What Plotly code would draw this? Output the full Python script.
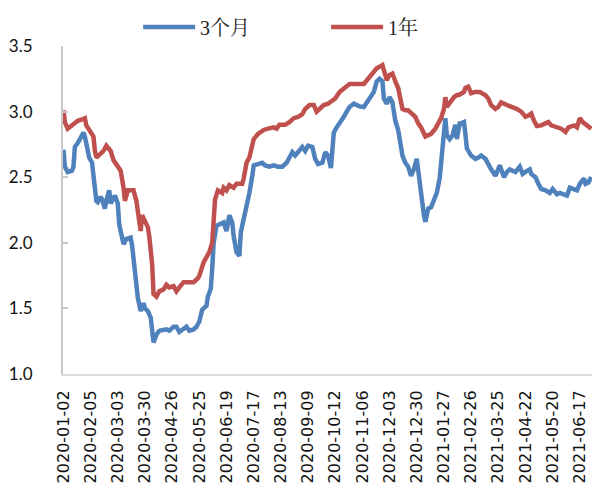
import plotly.graph_objects as go

# Tick labels (every 19th trading day)
tick_labels = ["2020-01-02", "2020-02-05", "2020-03-03", "2020-03-30", "2020-04-26",
               "2020-05-25", "2020-06-19", "2020-07-17", "2020-08-13", "2020-09-09",
               "2020-10-12", "2020-11-06", "2020-12-03", "2020-12-30", "2021-01-27",
               "2021-02-26", "2021-03-25", "2021-04-22", "2021-05-20", "2021-06-17"]
tick_pos = [0, 19, 38, 57, 76, 95, 114, 133, 152, 171, 190, 209, 228, 247, 266,
            285, 304, 323, 342, 361]

# 3个月 (trading-day index, yield %)
idx_3m = [0, 1, 3, 6, 7, 8, 10, 11, 12, 14, 15, 17, 18, 20, 21, 23, 24, 26, 27, 29,
          30, 32, 33, 34, 36, 38, 39, 41, 42, 44, 47, 48, 49, 51, 52, 54, 56, 57, 59, 61,
          62, 63, 65, 67, 72, 74, 77, 79, 81, 84, 86, 88, 91, 93, 95, 97, 100, 101, 103, 104,
          105, 107, 109, 112, 114, 116, 118, 119, 121, 123, 124, 126, 127, 129, 130, 132, 133, 136, 139, 141,
          144, 147, 150, 153, 156, 158, 160, 162, 164, 167, 169, 171, 174, 176, 178, 181, 183, 185, 187, 189,
          191, 193, 196, 198, 200, 203, 205, 207, 210, 212, 214, 217, 219, 221, 223, 224, 226, 228, 230, 232,
          234, 235, 237, 239, 241, 243, 245, 247, 248, 250, 252, 253, 255, 257, 259, 261, 263, 265, 267, 268,
          270, 272, 274, 275, 277, 278, 280, 281, 282, 285, 288, 290, 292, 295, 297, 299, 302, 304, 305, 308,
          310, 312, 315, 316, 319, 321, 323, 326, 327, 330, 332, 334, 337, 340, 342, 345, 347, 350, 352, 354,
          357, 359, 361, 364, 365, 367, 369]
val_3m = [2.71, 2.58, 2.54, 2.55, 2.58, 2.73, 2.76, 2.78, 2.81, 2.84, 2.81, 2.68, 2.65, 2.61, 2.50, 2.32, 2.31, 2.35, 2.33, 2.26,
          2.32, 2.40, 2.30, 2.32, 2.36, 2.30, 2.14, 2.04, 1.99, 2.03, 2.04, 1.98, 1.86, 1.71, 1.58, 1.48, 1.54, 1.50, 1.48, 1.43,
          1.33, 1.24, 1.30, 1.33, 1.34, 1.33, 1.36, 1.36, 1.32, 1.34, 1.36, 1.33, 1.34, 1.36, 1.40, 1.49, 1.52, 1.59, 1.65, 1.80,
          2.00, 2.13, 2.14, 2.155, 2.09, 2.21, 2.155, 2.05, 1.93, 1.90, 2.08, 2.17, 2.23, 2.33, 2.38, 2.51, 2.59, 2.60, 2.61, 2.59,
          2.58, 2.59, 2.58, 2.58, 2.61, 2.65, 2.69, 2.665, 2.69, 2.73, 2.70, 2.74, 2.73, 2.64, 2.60, 2.61, 2.69, 2.665, 2.57, 2.84,
          2.88, 2.91, 2.96, 3.00, 3.035, 3.06, 3.05, 3.04, 3.035, 3.07, 3.09, 3.15, 3.23, 3.25, 3.23, 3.10, 3.06, 3.11, 3.07, 2.93,
          2.86, 2.79, 2.665, 2.61, 2.58, 2.51, 2.56, 2.64, 2.54, 2.36, 2.21, 2.16, 2.26, 2.27, 2.33, 2.38, 2.49, 2.69, 2.95, 2.82,
          2.79, 2.82, 2.90, 2.79, 2.91, 2.91, 2.92, 2.83, 2.72, 2.665, 2.64, 2.65, 2.665, 2.64, 2.59, 2.56, 2.51, 2.56, 2.59, 2.50,
          2.54, 2.56, 2.55, 2.54, 2.58, 2.525, 2.54, 2.56, 2.525, 2.50, 2.45, 2.41, 2.40, 2.38, 2.41, 2.37, 2.38, 2.37, 2.36, 2.42,
          2.41, 2.40, 2.45, 2.49, 2.45, 2.46, 2.50]

# 1年
idx_1y = [0, 1, 3, 6, 8, 10, 13, 15, 16, 19, 21, 22, 23, 26, 28, 30, 33, 35, 37, 40,
          42, 43, 45, 49, 51, 53, 54, 55, 57, 59, 60, 62, 63, 65, 67, 70, 72, 74, 77, 79,
          81, 84, 87, 91, 94, 95, 98, 100, 102, 104, 105, 106, 108, 111, 112, 114, 116, 119, 121, 125,
          126, 128, 130, 132, 133, 136, 140, 143, 147, 149, 151, 155, 158, 161, 164, 167, 169, 172, 175, 177,
          179, 182, 185, 189, 190, 193, 197, 200, 204, 207, 210, 213, 217, 219, 223, 224, 226, 228, 230, 232,
          234, 237, 239, 241, 243, 246, 248, 250, 253, 255, 257, 260, 262, 264, 266, 267, 268, 270, 273, 275,
          277, 280, 281, 283, 285, 288, 291, 295, 297, 299, 302, 304, 306, 310, 313, 317, 320, 323, 325, 327,
          329, 331, 334, 337, 339, 341, 345, 348, 351, 353, 357, 359, 361, 363, 366, 369]
val_1y = [3.01, 2.92, 2.87, 2.895, 2.91, 2.93, 2.94, 2.95, 2.895, 2.84, 2.81, 2.70, 2.65, 2.68, 2.70, 2.74, 2.70, 2.63, 2.60, 2.55,
          2.42, 2.32, 2.40, 2.40, 2.32, 2.19, 2.09, 2.21, 2.155, 2.12, 2.05, 1.84, 1.61, 1.59, 1.63, 1.645, 1.68, 1.66, 1.67, 1.63,
          1.66, 1.70, 1.70, 1.70, 1.73, 1.75, 1.85, 1.89, 1.93, 2.00, 2.155, 2.33, 2.40, 2.38, 2.42, 2.40, 2.44, 2.42, 2.45, 2.45,
          2.49, 2.61, 2.65, 2.73, 2.79, 2.83, 2.86, 2.87, 2.88, 2.87, 2.90, 2.90, 2.92, 2.95, 2.96, 2.98, 3.02, 3.05, 3.05, 3.00,
          3.02, 3.05, 3.06, 3.09, 3.10, 3.15, 3.18, 3.21, 3.21, 3.21, 3.21, 3.25, 3.31, 3.33, 3.355, 3.32, 3.24, 3.28, 3.29, 3.23,
          3.18, 3.02, 3.01, 3.01, 2.985, 2.96, 2.91, 2.88, 2.81, 2.82, 2.83, 2.87, 2.91, 2.95, 3.02, 3.11, 3.035, 3.07, 3.11, 3.125,
          3.13, 3.15, 3.18, 3.19, 3.14, 3.15, 3.15, 3.125, 3.10, 3.05, 3.02, 3.035, 3.07, 3.05, 3.04, 3.02, 3.00, 2.96, 2.97, 2.985,
          2.93, 2.89, 2.895, 2.91, 2.92, 2.895, 2.88, 2.87, 2.845, 2.88, 2.895, 2.88, 2.95, 2.92, 2.895, 2.87]

fig = go.Figure()
fig.add_trace(go.Scatter(x=idx_3m, y=val_3m, mode="lines", name="3个月",
                         line=dict(color="#4f81bd", width=4.5)))
fig.add_trace(go.Scatter(x=idx_1y, y=val_1y, mode="lines", name="1年",
                         line=dict(color="#c0504d", width=4.5)))

fig.update_layout(
    width=594, height=486,
    margin=dict(l=63, r=2, t=46, b=112, autoexpand=False),
    paper_bgcolor="white", plot_bgcolor="white",
    showlegend=True,
    legend=dict(orientation="h", x=0.142, y=1.058, xanchor="left", yanchor="middle",
                font=dict(family="Liberation Serif, Noto Serif CJK SC, Noto Sans CJK SC", size=20, color="#222"),
                bgcolor="rgba(0,0,0,0)", itemwidth=52, entrywidth=121, entrywidthmode="pixels"),
)
fig.update_xaxes(range=[-0.3, 369.5], tickmode="array", tickvals=tick_pos, ticktext=tick_labels,
                 tickangle=-90, showgrid=False, zeroline=False, showline=True,
                 linecolor="#d9d9d9", linewidth=2, ticks="", ticklabelstandoff=8,
                 tickfont=dict(family="DejaVu Sans", size=16, color="#111"))
fig.update_yaxes(range=[1.0, 3.5], tickmode="array", tickvals=[1.0, 1.5, 2.0, 2.5, 3.0, 3.5],
                 tickformat=".1f", showgrid=False, zeroline=False, showline=True,
                 linecolor="#c8c8c8", linewidth=2, ticks="inside", ticklen=5, tickcolor="#c8c8c8",
                 tickwidth=1.5, ticklabelstandoff=25,
                 tickfont=dict(family="Lato", size=17, color="#111"))

fig.write_html("out.html")
